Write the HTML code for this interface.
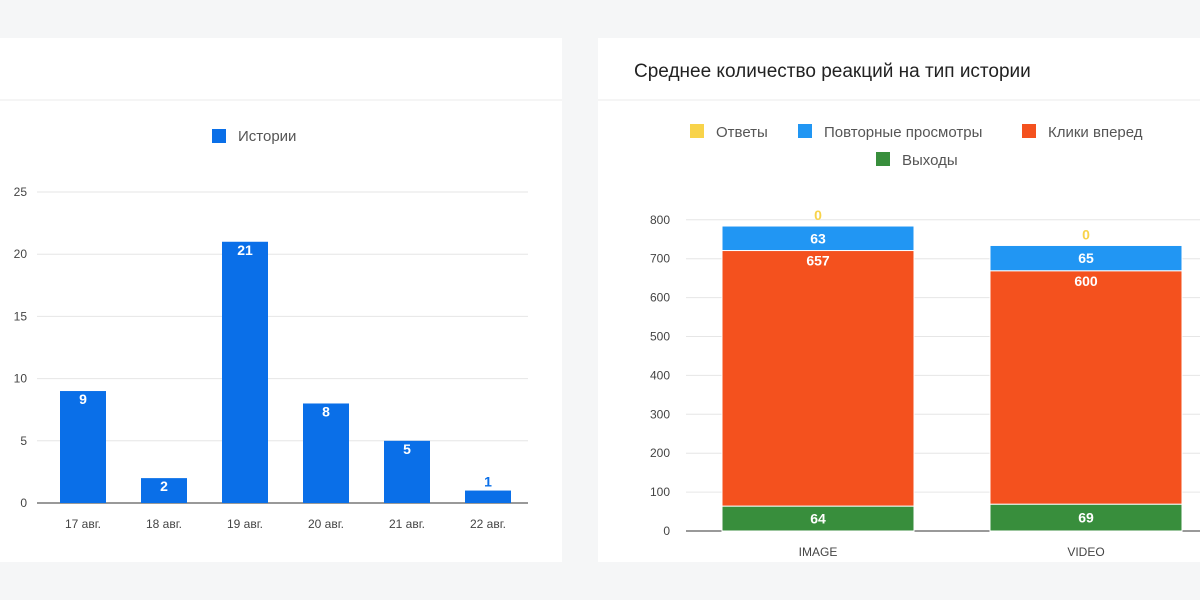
<!DOCTYPE html>
<html><head><meta charset="utf-8"><style>
body{margin:0;width:1200px;height:600px;background:#f5f6f7;overflow:hidden;font-family:"Liberation Sans","DejaVu Sans",sans-serif;}
.card{position:absolute;background:#fff;}
svg text{font-family:"Liberation Sans","DejaVu Sans",sans-serif;}
</style></head><body>
<div class="card" style="left:0;top:38px;width:562px;height:524px;"></div>
<div class="card" style="left:598px;top:38px;width:602px;height:524px;"></div>
<svg width="1200" height="600" style="position:absolute;left:0;top:0">
<line x1="0" y1="100" x2="562" y2="100" stroke="#ebebeb"/>
<line x1="598" y1="100" x2="1200" y2="100" stroke="#ebebeb"/>
<text x="634" y="77" font-size="19" fill="#222">Среднее количество реакций на тип истории</text>
<g id="left"></g><g id="right"></g>
</svg>
<script>
const ns="http://www.w3.org/2000/svg";
function mk(p,t,a,txt){const e=document.createElementNS(ns,t);for(const k in a)e.setAttribute(k,a[k]);if(txt!==undefined)e.textContent=txt;p.appendChild(e);return e;}
// Left chart data
const days=["17 авг.","18 авг.","19 авг.","20 авг.","21 авг.","22 авг."];
const stories=[9,2,21,8,5,1];
const leftTicks=[0,5,10,15,20,25];
// Right chart data
const types=["IMAGE","VIDEO"];
const exitsVals=[64,69];
const forwardVals=[657,600];
const rewatchVals=[63,65];
const answersVals=[0,0];
const rightTicks=[0,100,200,300,400,500,600,700,800];

const L=document.getElementById('left');
const ly=v=>503-v*12.44;
const lx=i=>83+i*81;
let e;
e=mk(L,'rect',{x:212,y:129,width:14,height:14,fill:'#0a6fe8'});

e=mk(L,'text',{x:238,y:141,'font-size':15,fill:'#555'},'Истории');

leftTicks.forEach(t=>{
 e=mk(L,'line',{x1:37,x2:528,y1:ly(t),y2:ly(t),stroke:t===0?'#333':'#e6e6e6'});
 
 e=mk(L,'text',{x:27,y:ly(t)+4,'font-size':12,fill:'#444','text-anchor':'end'},t);
 
});
stories.forEach((v,i)=>{
 e=mk(L,'rect',{x:lx(i)-23,y:ly(v),width:46,height:ly(0)-ly(v),fill:'#0a6fe8'});
 
 const inside=ly(0)-ly(v)>20;
 e=mk(L,'text',{x:lx(i),y:inside?ly(v)+13:ly(v)-4,'font-size':14,'font-weight':'bold',fill:inside?'#fff':'#0a6fe8','text-anchor':'middle'},v);
 
 e=mk(L,'text',{x:lx(i),y:528,'font-size':12,fill:'#444','text-anchor':'middle'},days[i]);
 
});

const R=document.getElementById('right');
const ry=v=>531-v*0.389;
const rx=i=>818+i*268;
const leg=[["Ответы",'#f8d34a',690,136],["Повторные просмотры",'#2196f3',798,136],["Клики вперед",'#f4511e',1022,136],["Выходы",'#388e3c',876,164]];
leg.forEach(l=>{
 e=mk(R,'rect',{x:l[2],y:l[3]-12,width:14,height:14,fill:l[1]});
 
 e=mk(R,'text',{x:l[2]+26,y:l[3]+1,'font-size':15,fill:'#555'},l[0]);
 
});
rightTicks.forEach(t=>{
 e=mk(R,'line',{x1:686,x2:1200,y1:ry(t),y2:ry(t),stroke:t===0?'#333':'#e6e6e6'});
 
 e=mk(R,'text',{x:670,y:ry(t)+4,'font-size':12,fill:'#444','text-anchor':'end'},t);
 
});
types.forEach((tp,i)=>{
 const x=rx(i)-96,w=192;
 const segs=[[exitsVals[i],'#388e3c','exits'],[forwardVals[i],'#f4511e','forward'],[rewatchVals[i],'#2196f3','rewatch']];
 let base=0;
 segs.forEach((s,j)=>{
  const y0=ry(base),y1=ry(base+s[0]);
  e=mk(R,'rect',{x:x,y:y1,width:w,height:y0-y1,fill:s[1],stroke:'#fff','stroke-width':1});
  
  const ty=j===1?y1+15:(y0+y1)/2+5;
  e=mk(R,'text',{x:rx(i),y:ty,'font-size':14,'font-weight':'bold',fill:'#fff','text-anchor':'middle'},s[0]);
  
  base+=s[0];
 });
 e=mk(R,'text',{x:rx(i),y:ry(base+answersVals[i])-6,'font-size':14,'font-weight':'bold',fill:'#f8d34a','text-anchor':'middle'},answersVals[i]);
 
 e=mk(R,'text',{x:rx(i),y:556,'font-size':12,fill:'#444','text-anchor':'middle'},tp);
 
});
</script>
</body></html>
